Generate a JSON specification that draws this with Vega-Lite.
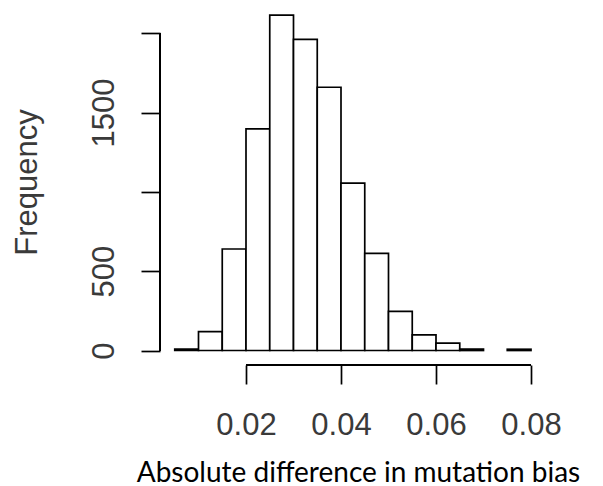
{
  "$schema": "https://vega.github.io/schema/vega-lite/v6.json",
  "width": 371,
  "height": 355,
  "autosize": {"type": "none"},
  "padding": {"left": 160, "top": 10, "right": 72, "bottom": 121},
  "background": "white",
  "config": {"view": {"stroke": null}},
  "data": {
    "values": [
      {"start": 0.005, "end": 0.010, "count": 9},
      {"start": 0.010, "end": 0.015, "count": 119},
      {"start": 0.015, "end": 0.020, "count": 640},
      {"start": 0.020, "end": 0.025, "count": 1397},
      {"start": 0.025, "end": 0.030, "count": 2115},
      {"start": 0.030, "end": 0.035, "count": 1962},
      {"start": 0.035, "end": 0.040, "count": 1660},
      {"start": 0.040, "end": 0.045, "count": 1056},
      {"start": 0.045, "end": 0.050, "count": 613},
      {"start": 0.050, "end": 0.055, "count": 247},
      {"start": 0.055, "end": 0.060, "count": 98},
      {"start": 0.060, "end": 0.065, "count": 47},
      {"start": 0.065, "end": 0.070, "count": 9},
      {"start": 0.075, "end": 0.080, "count": 8}
    ]
  },
  "layer": [
    {
      "mark": {"type": "bar", "fill": "white", "stroke": "black", "strokeWidth": 1.7},
      "encoding": {
        "x": {
          "field": "start", "type": "quantitative",
          "scale": {"domain": [0.001895, 0.08], "nice": false, "zero": false},
          "axis": {
            "values": [0.02, 0.04, 0.06, 0.08],
            "format": ".2f",
            "domain": false, "grid": false,
            "tickSize": 19, "tickColor": "black", "tickWidth": 1.7,
            "labelFont": "Liberation Sans", "labelFontSize": 31, "labelColor": "#3a3a3a",
            "labelBaseline": "alphabetic", "labelPadding": 50,
            "labelFlush": false, "labelOverlap": false,
            "title": "Absolute difference in mutation bias",
            "titleFont": "Lato", "titleFontSize": 28, "titleFontWeight": "normal",
            "titleColor": "black", "titleX": 198, "titleY": 116,
            "titleAlign": "center", "titleBaseline": "alphabetic"
          }
        },
        "x2": {"field": "end"},
        "y": {
          "field": "count", "type": "quantitative",
          "scale": {"domain": [-91.4, 2147], "nice": false, "zero": false},
          "axis": {
            "values": [0, 500, 1000, 1500, 2000],
            "labelExpr": "datum.value == 1000 || datum.value == 2000 ? '' : format(datum.value, 'd')",
            "domain": false, "grid": false,
            "tickSize": 19, "tickColor": "black", "tickWidth": 1.7,
            "labelFont": "Liberation Sans", "labelFontSize": 31, "labelColor": "#3a3a3a",
            "labelAngle": 270, "labelAlign": "center", "labelBaseline": "alphabetic",
            "labelPadding": 28, "labelFlush": false, "labelOverlap": false,
            "title": "Frequency",
            "titleFont": "Liberation Sans", "titleFontSize": 31, "titleFontWeight": "normal",
            "titleColor": "#3a3a3a", "titleAngle": 270, "titleX": -124, "titleY": 172,
            "titleAlign": "center", "titleBaseline": "alphabetic"
          }
        },
        "y2": {"datum": 0}
      }
    },
    {
      "mark": {"type": "rule", "stroke": "black", "strokeWidth": 1.7},
      "encoding": {
        "x": {"datum": 0.001895, "type": "quantitative"},
        "y": {"datum": 0, "type": "quantitative"},
        "y2": {"datum": 2000}
      }
    },
    {
      "mark": {"type": "rule", "stroke": "black", "strokeWidth": 1.7},
      "encoding": {
        "x": {"datum": 0.02, "type": "quantitative"},
        "x2": {"datum": 0.08},
        "y": {"datum": -91.4, "type": "quantitative"}
      }
    }
  ]
}
